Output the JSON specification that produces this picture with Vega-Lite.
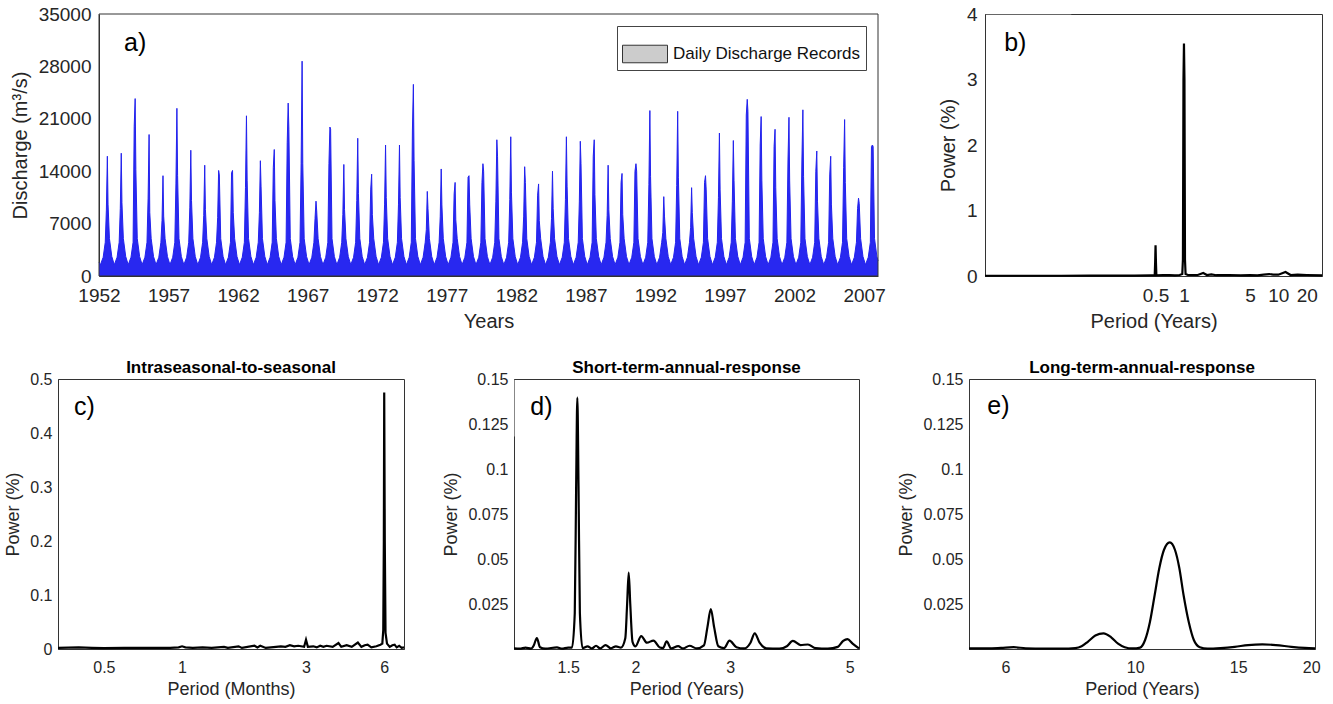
{
"$schema": "https://vega.github.io/schema/vega-lite/v6.json",
"background": "white",
"padding": {"left": 4, "top": 4, "right": 4, "bottom": 0},
"config": {
  "font": "Liberation Sans",
  "view": {"stroke": "#333333", "strokeWidth": 1},
  "axis": {"domainColor": "#333333", "tickSize": 0, "labelColor": "#262626", "titleColor": "#262626", "titleFontWeight": "normal", "gridColor": "#e3e3e3", "labelOverlap": false, "labelFlush": false, "labelFont": "Liberation Sans", "titleFont": "Liberation Sans"},
  "title": {"font": "Liberation Sans", "fontSize": 17, "fontWeight": "bold", "color": "#000000", "offset": -6}
},
"spacing": 26,
"columns": 1,
"align": "none",
"resolve": {"scale": {"fill": "independent"}, "legend": {"fill": "independent"}},
"concat": [
{"spacing": 51,
 "resolve": {"scale": {"fill": "independent"}, "legend": {"fill": "independent"}},
 "hconcat": [
 {"width": 820, "height": 262, "view": {"stroke": null},
  "data": {"values": [
{"t":1952.0,"q":1800},
{"t":1952.1,"q":1500},{"t":1952.3,"q":2500},{"t":1952.45,"q":4500},{"t":1952.53,"q":8800},{"t":1952.6,"q":16000},{"t":1952.65,"q":9600},{"t":1952.75,"q":5000},{"t":1952.92,"q":2600},
{"t":1953.1,"q":1500},{"t":1953.3,"q":2500},{"t":1953.45,"q":4500},{"t":1953.53,"q":9000},{"t":1953.6,"q":16400},{"t":1953.65,"q":9800},{"t":1953.75,"q":5000},{"t":1953.92,"q":2600},
{"t":1954.1,"q":1500},{"t":1954.3,"q":2500},{"t":1954.45,"q":4500},{"t":1954.53,"q":20000},{"t":1954.6,"q":23700},{"t":1954.65,"q":14200},{"t":1954.75,"q":5000},{"t":1954.92,"q":2600},
{"t":1955.1,"q":1500},{"t":1955.3,"q":2500},{"t":1955.45,"q":4500},{"t":1955.53,"q":10400},{"t":1955.6,"q":18900},{"t":1955.65,"q":8500},{"t":1955.75,"q":5000},{"t":1955.92,"q":2600},
{"t":1956.1,"q":1500},{"t":1956.3,"q":2500},{"t":1956.45,"q":4500},{"t":1956.53,"q":7400},{"t":1956.6,"q":13400},{"t":1956.65,"q":8000},{"t":1956.75,"q":5000},{"t":1956.92,"q":2600},
{"t":1957.1,"q":1500},{"t":1957.3,"q":2500},{"t":1957.45,"q":4500},{"t":1957.53,"q":12300},{"t":1957.6,"q":22400},{"t":1957.65,"q":13400},{"t":1957.75,"q":5000},{"t":1957.92,"q":2600},
{"t":1958.1,"q":1500},{"t":1958.3,"q":2500},{"t":1958.45,"q":4500},{"t":1958.53,"q":9200},{"t":1958.6,"q":16800},{"t":1958.65,"q":10100},{"t":1958.75,"q":5000},{"t":1958.92,"q":2600},
{"t":1959.1,"q":1500},{"t":1959.3,"q":2500},{"t":1959.45,"q":4500},{"t":1959.53,"q":8100},{"t":1959.6,"q":14800},{"t":1959.65,"q":8900},{"t":1959.75,"q":5000},{"t":1959.92,"q":2600},
{"t":1960.1,"q":1500},{"t":1960.3,"q":2500},{"t":1960.45,"q":4500},{"t":1960.53,"q":7800},{"t":1960.6,"q":14100},{"t":1960.65,"q":13500},{"t":1960.75,"q":5000},{"t":1960.92,"q":2600},
{"t":1961.1,"q":1500},{"t":1961.3,"q":2500},{"t":1961.45,"q":4500},{"t":1961.53,"q":13800},{"t":1961.6,"q":14100},{"t":1961.65,"q":8500},{"t":1961.75,"q":5000},{"t":1961.92,"q":2600},
{"t":1962.1,"q":1500},{"t":1962.3,"q":2500},{"t":1962.45,"q":4500},{"t":1962.53,"q":11800},{"t":1962.6,"q":21400},{"t":1962.65,"q":12800},{"t":1962.75,"q":5000},{"t":1962.92,"q":2600},
{"t":1963.1,"q":1500},{"t":1963.3,"q":2500},{"t":1963.45,"q":4500},{"t":1963.53,"q":8500},{"t":1963.6,"q":15400},{"t":1963.65,"q":12000},{"t":1963.75,"q":5000},{"t":1963.92,"q":2600},
{"t":1964.1,"q":1500},{"t":1964.3,"q":2500},{"t":1964.45,"q":4500},{"t":1964.53,"q":14500},{"t":1964.6,"q":16900},{"t":1964.65,"q":10100},{"t":1964.75,"q":5000},{"t":1964.92,"q":2600},
{"t":1965.1,"q":1500},{"t":1965.3,"q":2500},{"t":1965.45,"q":4500},{"t":1965.53,"q":17800},{"t":1965.6,"q":23100},{"t":1965.65,"q":19600},{"t":1965.75,"q":5000},{"t":1965.92,"q":2600},
{"t":1966.1,"q":1500},{"t":1966.3,"q":2500},{"t":1966.45,"q":4500},{"t":1966.53,"q":15000},{"t":1966.6,"q":28700},{"t":1966.65,"q":15000},{"t":1966.75,"q":5000},{"t":1966.92,"q":2600},
{"t":1967.1,"q":1500},{"t":1967.3,"q":2500},{"t":1967.45,"q":4500},{"t":1967.53,"q":7700},{"t":1967.6,"q":10000},{"t":1967.65,"q":8700},{"t":1967.75,"q":5000},{"t":1967.92,"q":2600},
{"t":1968.1,"q":1500},{"t":1968.3,"q":2500},{"t":1968.45,"q":4500},{"t":1968.53,"q":15000},{"t":1968.6,"q":19900},{"t":1968.65,"q":19600},{"t":1968.75,"q":5000},{"t":1968.92,"q":2600},
{"t":1969.1,"q":1500},{"t":1969.3,"q":2500},{"t":1969.45,"q":4500},{"t":1969.53,"q":8200},{"t":1969.6,"q":14900},{"t":1969.65,"q":8900},{"t":1969.75,"q":5000},{"t":1969.92,"q":2600},
{"t":1970.1,"q":1500},{"t":1970.3,"q":2500},{"t":1970.45,"q":4500},{"t":1970.53,"q":10100},{"t":1970.6,"q":18400},{"t":1970.65,"q":11000},{"t":1970.75,"q":5000},{"t":1970.92,"q":2600},
{"t":1971.1,"q":1500},{"t":1971.3,"q":2500},{"t":1971.45,"q":4500},{"t":1971.53,"q":11500},{"t":1971.6,"q":13600},{"t":1971.65,"q":8200},{"t":1971.75,"q":5000},{"t":1971.92,"q":2600},
{"t":1972.1,"q":1500},{"t":1972.3,"q":2500},{"t":1972.45,"q":4500},{"t":1972.53,"q":9600},{"t":1972.6,"q":17500},{"t":1972.65,"q":10500},{"t":1972.75,"q":5000},{"t":1972.92,"q":2600},
{"t":1973.1,"q":1500},{"t":1973.3,"q":2500},{"t":1973.45,"q":4500},{"t":1973.53,"q":9600},{"t":1973.6,"q":17500},{"t":1973.65,"q":10500},{"t":1973.75,"q":5000},{"t":1973.92,"q":2600},
{"t":1974.1,"q":1500},{"t":1974.3,"q":2500},{"t":1974.45,"q":4500},{"t":1974.53,"q":19500},{"t":1974.6,"q":25600},{"t":1974.65,"q":15400},{"t":1974.75,"q":5000},{"t":1974.92,"q":2600},
{"t":1975.1,"q":1500},{"t":1975.3,"q":2500},{"t":1975.45,"q":4500},{"t":1975.53,"q":6200},{"t":1975.6,"q":11300},{"t":1975.65,"q":9000},{"t":1975.75,"q":5000},{"t":1975.92,"q":2600},
{"t":1976.1,"q":1500},{"t":1976.3,"q":2500},{"t":1976.45,"q":4500},{"t":1976.53,"q":7900},{"t":1976.6,"q":14300},{"t":1976.65,"q":9500},{"t":1976.75,"q":5000},{"t":1976.92,"q":2600},
{"t":1977.1,"q":1500},{"t":1977.3,"q":2500},{"t":1977.45,"q":4500},{"t":1977.53,"q":11000},{"t":1977.6,"q":12500},{"t":1977.65,"q":7500},{"t":1977.75,"q":5000},{"t":1977.92,"q":2600},
{"t":1978.1,"q":1500},{"t":1978.3,"q":2500},{"t":1978.45,"q":4500},{"t":1978.53,"q":13200},{"t":1978.6,"q":13400},{"t":1978.65,"q":9500},{"t":1978.75,"q":5000},{"t":1978.92,"q":2600},
{"t":1979.1,"q":1500},{"t":1979.3,"q":2500},{"t":1979.45,"q":4500},{"t":1979.53,"q":12500},{"t":1979.6,"q":15000},{"t":1979.65,"q":14000},{"t":1979.75,"q":5000},{"t":1979.92,"q":2600},
{"t":1980.1,"q":1500},{"t":1980.3,"q":2500},{"t":1980.45,"q":4500},{"t":1980.53,"q":10000},{"t":1980.6,"q":18200},{"t":1980.65,"q":16000},{"t":1980.75,"q":5000},{"t":1980.92,"q":2600},
{"t":1981.1,"q":1500},{"t":1981.3,"q":2500},{"t":1981.45,"q":4500},{"t":1981.53,"q":10200},{"t":1981.6,"q":18600},{"t":1981.65,"q":11200},{"t":1981.75,"q":5000},{"t":1981.92,"q":2600},
{"t":1982.1,"q":1500},{"t":1982.3,"q":2500},{"t":1982.45,"q":4500},{"t":1982.53,"q":8000},{"t":1982.6,"q":14600},{"t":1982.65,"q":12500},{"t":1982.75,"q":5000},{"t":1982.92,"q":2600},
{"t":1983.1,"q":1500},{"t":1983.3,"q":2500},{"t":1983.45,"q":4500},{"t":1983.53,"q":10800},{"t":1983.6,"q":12300},{"t":1983.65,"q":7400},{"t":1983.75,"q":5000},{"t":1983.92,"q":2600},
{"t":1984.1,"q":1500},{"t":1984.3,"q":2500},{"t":1984.45,"q":4500},{"t":1984.53,"q":7700},{"t":1984.6,"q":14000},{"t":1984.65,"q":9000},{"t":1984.75,"q":5000},{"t":1984.92,"q":2600},
{"t":1985.1,"q":1500},{"t":1985.3,"q":2500},{"t":1985.45,"q":4500},{"t":1985.53,"q":10200},{"t":1985.6,"q":18600},{"t":1985.65,"q":12000},{"t":1985.75,"q":5000},{"t":1985.92,"q":2600},
{"t":1986.1,"q":1500},{"t":1986.3,"q":2500},{"t":1986.45,"q":4500},{"t":1986.53,"q":9900},{"t":1986.6,"q":18000},{"t":1986.65,"q":15000},{"t":1986.75,"q":5000},{"t":1986.92,"q":2600},
{"t":1987.1,"q":1500},{"t":1987.3,"q":2500},{"t":1987.45,"q":4500},{"t":1987.53,"q":16000},{"t":1987.6,"q":18200},{"t":1987.65,"q":10900},{"t":1987.75,"q":5000},{"t":1987.92,"q":2600},
{"t":1988.1,"q":1500},{"t":1988.3,"q":2500},{"t":1988.45,"q":4500},{"t":1988.53,"q":8100},{"t":1988.6,"q":14800},{"t":1988.65,"q":8900},{"t":1988.75,"q":5000},{"t":1988.92,"q":2600},
{"t":1989.1,"q":1500},{"t":1989.3,"q":2500},{"t":1989.45,"q":4500},{"t":1989.53,"q":12500},{"t":1989.6,"q":13700},{"t":1989.65,"q":8200},{"t":1989.75,"q":5000},{"t":1989.92,"q":2600},
{"t":1990.1,"q":1500},{"t":1990.3,"q":2500},{"t":1990.45,"q":4500},{"t":1990.53,"q":14000},{"t":1990.6,"q":15000},{"t":1990.65,"q":14000},{"t":1990.75,"q":5000},{"t":1990.92,"q":2600},
{"t":1991.1,"q":1500},{"t":1991.3,"q":2500},{"t":1991.45,"q":4500},{"t":1991.53,"q":12200},{"t":1991.6,"q":22100},{"t":1991.65,"q":13300},{"t":1991.75,"q":5000},{"t":1991.92,"q":2600},
{"t":1992.1,"q":1500},{"t":1992.3,"q":2500},{"t":1992.45,"q":4500},{"t":1992.53,"q":5800},{"t":1992.6,"q":10600},{"t":1992.65,"q":8000},{"t":1992.75,"q":5000},{"t":1992.92,"q":2600},
{"t":1993.1,"q":1500},{"t":1993.3,"q":2500},{"t":1993.45,"q":4500},{"t":1993.53,"q":12100},{"t":1993.6,"q":22000},{"t":1993.65,"q":13200},{"t":1993.75,"q":5000},{"t":1993.92,"q":2600},
{"t":1994.1,"q":1500},{"t":1994.3,"q":2500},{"t":1994.45,"q":4500},{"t":1994.53,"q":6500},{"t":1994.6,"q":11800},{"t":1994.65,"q":8500},{"t":1994.75,"q":5000},{"t":1994.92,"q":2600},
{"t":1995.1,"q":1500},{"t":1995.3,"q":2500},{"t":1995.45,"q":4500},{"t":1995.53,"q":12500},{"t":1995.6,"q":13400},{"t":1995.65,"q":11500},{"t":1995.75,"q":5000},{"t":1995.92,"q":2600},
{"t":1996.1,"q":1500},{"t":1996.3,"q":2500},{"t":1996.45,"q":4500},{"t":1996.53,"q":10500},{"t":1996.6,"q":19100},{"t":1996.65,"q":11500},{"t":1996.75,"q":5000},{"t":1996.92,"q":2600},
{"t":1997.1,"q":1500},{"t":1997.3,"q":2500},{"t":1997.45,"q":4500},{"t":1997.53,"q":10000},{"t":1997.6,"q":18100},{"t":1997.65,"q":12800},{"t":1997.75,"q":5000},{"t":1997.92,"q":2600},
{"t":1998.1,"q":1500},{"t":1998.3,"q":2500},{"t":1998.45,"q":4500},{"t":1998.53,"q":21500},{"t":1998.6,"q":23600},{"t":1998.65,"q":22000},{"t":1998.75,"q":5000},{"t":1998.92,"q":2600},
{"t":1999.1,"q":1500},{"t":1999.3,"q":2500},{"t":1999.45,"q":4500},{"t":1999.53,"q":17500},{"t":1999.6,"q":21300},{"t":1999.65,"q":12800},{"t":1999.75,"q":5000},{"t":1999.92,"q":2600},
{"t":2000.1,"q":1500},{"t":2000.3,"q":2500},{"t":2000.45,"q":4500},{"t":2000.53,"q":17300},{"t":2000.6,"q":19600},{"t":2000.65,"q":11800},{"t":2000.75,"q":5000},{"t":2000.92,"q":2600},
{"t":2001.1,"q":1500},{"t":2001.3,"q":2500},{"t":2001.45,"q":4500},{"t":2001.53,"q":15500},{"t":2001.6,"q":21200},{"t":2001.65,"q":12700},{"t":2001.75,"q":5000},{"t":2001.92,"q":2600},
{"t":2002.1,"q":1500},{"t":2002.3,"q":2500},{"t":2002.45,"q":4500},{"t":2002.53,"q":15500},{"t":2002.6,"q":22200},{"t":2002.65,"q":13300},{"t":2002.75,"q":5000},{"t":2002.92,"q":2600},
{"t":2003.1,"q":1500},{"t":2003.3,"q":2500},{"t":2003.45,"q":4500},{"t":2003.53,"q":14000},{"t":2003.6,"q":16700},{"t":2003.65,"q":10000},{"t":2003.75,"q":5000},{"t":2003.92,"q":2600},
{"t":2004.1,"q":1500},{"t":2004.3,"q":2500},{"t":2004.45,"q":4500},{"t":2004.53,"q":13500},{"t":2004.6,"q":16000},{"t":2004.65,"q":9600},{"t":2004.75,"q":5000},{"t":2004.92,"q":2600},
{"t":2005.1,"q":1500},{"t":2005.3,"q":2500},{"t":2005.45,"q":4500},{"t":2005.53,"q":14500},{"t":2005.6,"q":20900},{"t":2005.65,"q":12500},{"t":2005.75,"q":5000},{"t":2005.92,"q":2600},
{"t":2006.1,"q":1500},{"t":2006.3,"q":2500},{"t":2006.45,"q":4500},{"t":2006.53,"q":9000},{"t":2006.6,"q":10400},{"t":2006.65,"q":9700},{"t":2006.75,"q":5000},{"t":2006.92,"q":2600},
{"t":2007.1,"q":1500},{"t":2007.3,"q":2500},{"t":2007.45,"q":4500},{"t":2007.53,"q":17300},{"t":2007.6,"q":17500},{"t":2007.65,"q":17300},{"t":2007.75,"q":5000},{"t":2007.92,"q":2600},
{"t":2008.0,"q":2000}
  ]},
  "layer": [
   {"mark": {"type": "area", "color": "#2828f0", "opacity": 1, "line": {"color": "#2222ee", "strokeWidth": 1}},
    "encoding": {
     "x": {"field": "t", "type": "quantitative", "scale": {"domain": [1952, 2008], "nice": false, "zero": false, "range": [41, 820]},
           "axis": {"title": "Years", "values": [1952,1957,1962,1967,1972,1977,1982,1987,1992,1997,2002,2007], "format": "d", "grid": false, "labelFontSize": 19, "titleFontSize": 20, "labelPadding": 10, "titlePadding": 6}},
     "y": {"field": "q", "type": "quantitative", "scale": {"domain": [0, 35000], "nice": false},
           "axis": {"title": "Discharge (m³/s)", "offset": -41, "values": [0,7000,14000,21000,28000,35000], "format": "d", "grid": false, "labelFontSize": 19, "titleFontSize": 20, "labelPadding": 8, "titlePadding": 8}}
    }},
   {"data": {"values": [{}]}, "mark": {"type": "rect", "fill": null, "stroke": "#333333", "strokeWidth": 1},
    "encoding": {"x": {"datum": 1952}, "x2": {"datum": 2008}, "y": {"datum": 0}, "y2": {"datum": 35000}}},
   {"data": {"values": [{}]}, "mark": {"type": "square", "filled": true, "opacity": 1, "size": 30, "stroke": "#333333", "strokeWidth": 1},
    "encoding": {
     "x": {"datum": 1998}, "y": {"datum": 31400},
     "fill": {"datum": "Daily Discharge Records", "type": "nominal", "scale": {"range": ["#cccccc"]},
           "legend": {"title": null, "orient": "top-right", "offset": 12, "padding": 5, "strokeColor": "#444444", "fillColor": "white", "labelFontSize": 17, "labelLimit": 400, "labelColor": "#111111", "labelFont": "Liberation Sans", "symbolType": "M-1,-0.39H1V0.39H-1Z", "symbolSize": 2025, "labelOffset": 5, "symbolOpacity": 1, "symbolStrokeColor": "#333333", "symbolStrokeWidth": 1}}
    }},
   {"data": {"values": [{}]}, "mark": {"type": "text", "text": "a)", "align": "left", "baseline": "middle", "fontSize": 25, "color": "#000000"},
    "encoding": {"x": {"datum": 1953.8}, "y": {"datum": 31100}}}
  ]},
 {"width": 337, "height": 262,
  "data": {"values": [
{"p":0.0078,"v":0.004},{"p":0.02,"v":0.004},{"p":0.05,"v":0.004},{"p":0.1,"v":0.005},{"p":0.2,"v":0.006},{"p":0.3,"v":0.007},{"p":0.45,"v":0.01},{"p":0.49,"v":0.01},{"p":0.495,"v":0.2},{"p":0.5,"v":0.47},{"p":0.505,"v":0.2},{"p":0.51,"v":0.01},{"p":0.6,"v":0.012},{"p":0.7,"v":0.015},{"p":0.8,"v":0.01},{"p":0.9,"v":0.015},{"p":0.96,"v":0.03},{"p":0.975,"v":0.25},{"p":0.988,"v":3.0},{"p":1.0,"v":3.55},{"p":1.012,"v":3.0},{"p":1.025,"v":0.25},{"p":1.04,"v":0.03},{"p":1.1,"v":0.015},{"p":1.4,"v":0.015},{"p":1.6,"v":0.045},{"p":1.75,"v":0.015},{"p":1.95,"v":0.025},{"p":2.2,"v":0.012},{"p":3,"v":0.015},{"p":4,"v":0.01},{"p":5,"v":0.012},{"p":6,"v":0.01},{"p":7,"v":0.02},{"p":8,"v":0.03},{"p":8.8,"v":0.02},{"p":10,"v":0.02},{"p":11.9,"v":0.06},{"p":13.5,"v":0.015},{"p":16,"v":0.02},{"p":20,"v":0.015},{"p":29,"v":0.01}
  ]},
  "layer": [
   {"data": {"values": [{}]}, "mark": {"type": "rect", "fill": "white"},
    "encoding": {"x": {"datum": 0.0080}, "x2": {"datum": 0.064}, "y": {"datum": 3.12}, "y2": {"datum": 3.99}}},
   {"mark": {"type": "line", "color": "#000000", "strokeWidth": 2.2},
    "encoding": {
     "x": {"field": "p", "type": "quantitative", "scale": {"type": "log", "domain": [0.0078, 29], "nice": false},
           "axis": {"title": "Period (Years)", "values": [0.0082,0.011,0.0137,0.0164,0.0192,0.0219,0.0246,0.0548,0.0821,0.1095,0.1369,0.1643,0.1916,0.219,0.2464,0.5,0.8214,1,1.095,1.369,1.643,1.916,2.19,2.464,2.738,5,8.21,10,13.7,16.4,19.2,20,21.9,24.6,27.4], "format": ".3~g",
                    "labelExpr": "indexof([0.5,1,5,10,20], datum.value) >= 0 ? datum.label : ''", "labelFontSize": 19, "titleFontSize": 20, "labelPadding": 10, "titlePadding": 6}},
     "y": {"field": "v", "type": "quantitative", "scale": {"domain": [0, 4], "nice": false},
           "axis": {"title": "Power (%)", "values": [0,1,2,3,4], "format": "d", "labelFontSize": 19, "titleFontSize": 20, "labelPadding": 8, "titlePadding": 8,
                    "gridOpacity": {"condition": {"test": "datum.value == 4", "value": 0}, "value": 1}}}
    }},
   {"data": {"values": [{}]}, "mark": {"type": "text", "text": "b)", "align": "left", "baseline": "middle", "fontSize": 25, "color": "#000000"},
    "encoding": {"x": {"datum": 0.01245}, "y": {"datum": 3.56}}}
  ]}
]},
{"spacing": 33, "hconcat": [
 {"width": 346, "height": 270, "title": "Intraseasonal-to-seasonal",
  "data": {"values": [
{"p":0.333,"v":0.002},{"p":0.4,"v":0.003},{"p":0.45,"v":0.002},{"p":0.5,"v":0.0015},{"p":0.6,"v":0.002},{"p":0.7,"v":0.002},{"p":0.8,"v":0.002},{"p":0.9,"v":0.002},{"p":0.97,"v":0.003},{"p":1.0,"v":0.005},{"p":1.03,"v":0.003},{"p":1.1,"v":0.002},{"p":1.2,"v":0.003},{"p":1.3,"v":0.002},{"p":1.45,"v":0.004},{"p":1.5,"v":0.002},{"p":1.65,"v":0.005},{"p":1.7,"v":0.002},{"p":1.9,"v":0.006},{"p":1.95,"v":0.003},{"p":2.0,"v":0.006},{"p":2.1,"v":0.002},{"p":2.3,"v":0.004},{"p":2.4,"v":0.005},{"p":2.5,"v":0.004},{"p":2.6,"v":0.007},{"p":2.7,"v":0.005},{"p":2.8,"v":0.006},{"p":2.95,"v":0.004},{"p":3.0,"v":0.017},{"p":3.05,"v":0.004},{"p":3.2,"v":0.005},{"p":3.3,"v":0.003},{"p":3.4,"v":0.006},{"p":3.5,"v":0.004},{"p":3.6,"v":0.006},{"p":3.8,"v":0.004},{"p":4.0,"v":0.011},{"p":4.1,"v":0.004},{"p":4.3,"v":0.007},{"p":4.5,"v":0.004},{"p":4.75,"v":0.012},{"p":4.9,"v":0.004},{"p":5.05,"v":0.007},{"p":5.18,"v":0.008},{"p":5.35,"v":0.003},{"p":5.6,"v":0.005},{"p":5.8,"v":0.008},{"p":5.9,"v":0.01},{"p":5.95,"v":0.035},{"p":5.98,"v":0.2},{"p":6.0,"v":0.475},{"p":6.03,"v":0.2},{"p":6.07,"v":0.03},{"p":6.15,"v":0.01},{"p":6.3,"v":0.004},{"p":6.45,"v":0.007},{"p":6.58,"v":0.008},{"p":6.7,"v":0.003},{"p":6.85,"v":0.006},{"p":7.0,"v":0.002},{"p":7.15,"v":0.003}
  ]},
  "layer": [
   {"data": {"values": [{}]}, "mark": {"type": "rect", "fill": "white"},
    "encoding": {"x": {"datum": 0.336}, "x2": {"datum": 0.77}, "y": {"datum": 0.393}, "y2": {"datum": 0.498}}},
   {"mark": {"type": "line", "color": "#000000", "strokeWidth": 2.2},
    "encoding": {
     "x": {"field": "p", "type": "quantitative", "scale": {"type": "log", "domain": [0.333, 7.15], "nice": false},
           "axis": {"title": "Period (Months)", "values": [0.5,0.657,0.986,1,1.314,1.643,1.971,2.3,2.63,2.957,3,3.285,6,6.57], "format": ".3~g",
                    "labelExpr": "indexof([0.5,1,3,6], datum.value) >= 0 ? datum.label : ''", "labelFontSize": 16, "titleFontSize": 18, "labelPadding": 10, "titlePadding": 5}},
     "y": {"field": "v", "type": "quantitative", "scale": {"domain": [0, 0.5], "nice": false},
           "axis": {"title": "Power (%)", "values": [0,0.1,0.2,0.3,0.4,0.5], "format": ".3~g", "labelFontSize": 16, "titleFontSize": 18, "labelPadding": 6, "titlePadding": 7,
                    "gridOpacity": {"condition": {"test": "datum.value == 0.5", "value": 0}, "value": 1}}}
    }},
   {"data": {"values": [{}]}, "mark": {"type": "text", "text": "c)", "align": "left", "baseline": "middle", "fontSize": 25, "color": "#000000"},
    "encoding": {"x": {"datum": 0.384}, "y": {"datum": 0.448}}}
  ]},
 {"width": 345, "height": 270, "title": "Short-term-annual-response",
  "data": {"values": [
{"p":1.19,"v":0.0003},{"p":1.22,"v":0.0002},{"p":1.25,"v":0.0008},{"p":1.28,"v":0.0002},{"p":1.295,"v":0.002},{"p":1.312,"v":0.0061},{"p":1.33,"v":0.001},{"p":1.36,"v":0.0002},{"p":1.43,"v":0.0009},{"p":1.46,"v":0.0002},{"p":1.5,"v":0.0008},{"p":1.525,"v":0.0008},{"p":1.543,"v":0.02},{"p":1.552,"v":0.09},{"p":1.56,"v":0.1396},{"p":1.568,"v":0.09},{"p":1.577,"v":0.02},{"p":1.595,"v":0.0005},{"p":1.63,"v":0.0015},{"p":1.66,"v":0.0003},{"p":1.69,"v":0.0018},{"p":1.72,"v":0.0003},{"p":1.76,"v":0.0022},{"p":1.8,"v":0.0004},{"p":1.84,"v":0.0015},{"p":1.88,"v":0.0008},{"p":1.915,"v":0.006},{"p":1.93,"v":0.025},{"p":1.943,"v":0.0425},{"p":1.956,"v":0.025},{"p":1.975,"v":0.004},{"p":2.0,"v":0.0015},{"p":2.05,"v":0.0072},{"p":2.1,"v":0.0035},{"p":2.16,"v":0.0047},{"p":2.22,"v":0.0008},{"p":2.25,"v":0.0005},{"p":2.285,"v":0.0042},{"p":2.33,"v":0.0003},{"p":2.4,"v":0.0016},{"p":2.45,"v":0.0003},{"p":2.52,"v":0.0018},{"p":2.6,"v":0.0003},{"p":2.68,"v":0.002},{"p":2.72,"v":0.012},{"p":2.76,"v":0.0222},{"p":2.8,"v":0.012},{"p":2.85,"v":0.0015},{"p":2.92,"v":0.0005},{"p":2.99,"v":0.0046},{"p":3.08,"v":0.001},{"p":3.18,"v":0.0003},{"p":3.27,"v":0.0035},{"p":3.33,"v":0.0087},{"p":3.4,"v":0.0035},{"p":3.5,"v":0.0003},{"p":3.7,"v":0.0002},{"p":3.82,"v":0.0015},{"p":3.92,"v":0.0045},{"p":4.05,"v":0.0022},{"p":4.18,"v":0.0025},{"p":4.32,"v":0.0005},{"p":4.55,"v":0.0002},{"p":4.75,"v":0.0012},{"p":4.86,"v":0.0045},{"p":4.95,"v":0.0055},{"p":5.06,"v":0.003},{"p":5.2,"v":0.0003}
  ]},
  "layer": [
   {"data": {"values": [{}]}, "mark": {"type": "rect", "fill": "white"},
    "encoding": {"x": {"datum": 1.193}, "x2": {"datum": 1.52}, "y": {"datum": 0.118}, "y2": {"datum": 0.1495}}},
   {"mark": {"type": "line", "color": "#000000", "strokeWidth": 2.2, "interpolate": "monotone"},
    "encoding": {
     "x": {"field": "p", "type": "quantitative", "scale": {"type": "log", "domain": [1.19, 5.2], "nice": false},
           "axis": {"title": "Period (Years)", "values": [1.335,1.5,1.606,1.878,2,2.14,2.42,2.69,3,5], "format": ".3~g",
                    "labelExpr": "indexof([1.5,2,3,5], datum.value) >= 0 ? datum.label : ''", "labelFontSize": 16, "titleFontSize": 18, "labelPadding": 10, "titlePadding": 5}},
     "y": {"field": "v", "type": "quantitative", "scale": {"domain": [0, 0.15], "nice": false},
           "axis": {"title": "Power (%)", "values": [0.025,0.05,0.075,0.1,0.125,0.15], "format": ".3~g", "labelFontSize": 16, "titleFontSize": 18, "labelPadding": 6, "titlePadding": 7,
                    "gridOpacity": {"condition": {"test": "datum.value == 0.15", "value": 0}, "value": 1}}}
    }},
   {"data": {"values": [{}]}, "mark": {"type": "text", "text": "d)", "align": "left", "baseline": "middle", "fontSize": 25, "color": "#000000"},
    "encoding": {"x": {"datum": 1.276}, "y": {"datum": 0.1344}}}
  ]},
 {"width": 346, "height": 270, "title": "Long-term-annual-response",
  "data": {"values": [
{"p":5.2,"v":0.0003},{"p":5.6,"v":0.0003},{"p":5.9,"v":0.0006},{"p":6.2,"v":0.001},{"p":6.5,"v":0.0004},{"p":7.0,"v":0.0002},{"p":7.5,"v":0.0002},{"p":7.9,"v":0.0005},{"p":8.1,"v":0.0015},{"p":8.3,"v":0.004},{"p":8.55,"v":0.0075},{"p":8.83,"v":0.0087},{"p":9.1,"v":0.0065},{"p":9.35,"v":0.003},{"p":9.6,"v":0.001},{"p":9.9,"v":0.0003},{"p":10.2,"v":0.0008},{"p":10.4,"v":0.005},{"p":10.6,"v":0.015},{"p":10.8,"v":0.03},{"p":11.0,"v":0.045},{"p":11.2,"v":0.055},{"p":11.46,"v":0.0592},{"p":11.7,"v":0.055},{"p":11.9,"v":0.045},{"p":12.1,"v":0.03},{"p":12.35,"v":0.015},{"p":12.6,"v":0.005},{"p":12.9,"v":0.001},{"p":13.3,"v":0.0002},{"p":14.0,"v":0.0005},{"p":14.8,"v":0.0012},{"p":15.6,"v":0.0022},{"p":16.5,"v":0.0026},{"p":17.4,"v":0.0022},{"p":18.5,"v":0.0012},{"p":19.5,"v":0.0006},{"p":20.3,"v":0.0004}
  ]},
  "layer": [
   {"data": {"values": [{}]}, "mark": {"type": "rect", "fill": "white"},
    "encoding": {"x": {"datum": 5.22}, "x2": {"datum": 6.49}, "y": {"datum": 0.118}, "y2": {"datum": 0.1495}}},
   {"mark": {"type": "line", "color": "#000000", "strokeWidth": 2.2, "interpolate": "monotone"},
    "encoding": {
     "x": {"field": "p", "type": "quantitative", "scale": {"type": "log", "domain": [5.2, 20.3], "nice": false},
           "axis": {"title": "Period (Years)", "values": [5.38,6,8.09,10,10.77,13.5,15,16.1,18.8,20], "format": ".3~g",
                    "labelExpr": "indexof([6,10,15,20], datum.value) >= 0 ? datum.label : ''", "labelFontSize": 16, "titleFontSize": 18, "labelPadding": 10, "titlePadding": 5}},
     "y": {"field": "v", "type": "quantitative", "scale": {"domain": [0, 0.15], "nice": false},
           "axis": {"title": "Power (%)", "values": [0.025,0.05,0.075,0.1,0.125,0.15], "format": ".3~g", "labelFontSize": 16, "titleFontSize": 18, "labelPadding": 6, "titlePadding": 7,
                    "gridOpacity": {"condition": {"test": "datum.value == 0.15", "value": 0}, "value": 1}}}
    }},
   {"data": {"values": [{}]}, "mark": {"type": "text", "text": "e)", "align": "left", "baseline": "middle", "fontSize": 25, "color": "#000000"},
    "encoding": {"x": {"datum": 5.59}, "y": {"datum": 0.135}}}
  ]}
]}
]
}
